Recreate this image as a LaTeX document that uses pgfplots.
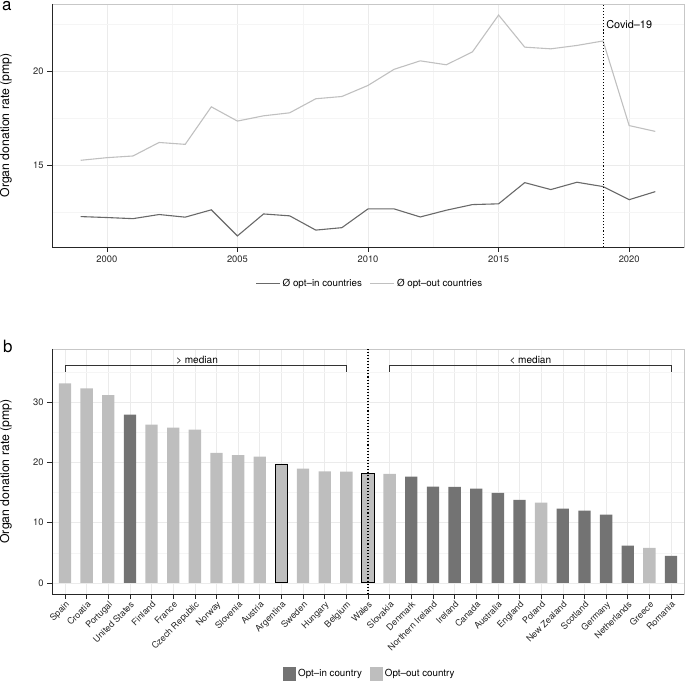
\documentclass[border=0pt]{standalone}
\usepackage{fontspec}
\setmainfont{TeX Gyre Heros}
\usepackage{pgfplots}
\pgfplotsset{compat=1.18}
\definecolor{optin}{RGB}{115,115,115}
\definecolor{optout}{RGB}{190,190,190}
\definecolor{lin}{RGB}{105,105,105}
\definecolor{lout}{RGB}{192,192,192}
\pgfplotsset{
  common/.style={
    scale only axis,
    axis lines=box,
    axis line style={black!22, line width=0.6bp},
    clip=false,
    grid=both,
    major grid style={black!8, line width=0.6bp},
    minor grid style={black!4, line width=0.4bp},
    xtick pos=bottom, ytick pos=left,
    tick align=outside,
    major tick length=5bp,
    minor tick length=0bp,
    tick style={black!85, line width=0.6bp},
    tick label style={font=\fontsize{9.4}{10}\selectfont, text=black!85},
    /pgf/number format/assume math mode=true,
    /pgf/number format/1000 sep={},
    every axis y label/.style={at={(axis description cs:-0.0728,0.5)}, rotate=90, anchor=center, font=\fontsize{12.3}{13}\selectfont},
    legend columns=2,
    legend style={draw=none, fill=none, font=\fontsize{9.8}{11}\selectfont, anchor=center,
      /tikz/every even column/.append style={column sep=6bp}},
  }
}
\begin{document}
\begin{tikzpicture}[x=1bp,y=1bp]
\path[use as bounding box] (0,0) rectangle (685,681);
\node[anchor=base west, inner sep=0pt] at (2,670) {\fontsize{17}{17}\selectfont a};
\node[anchor=base west, inner sep=0pt] at (3,328) {\fontsize{17}{17}\selectfont b};
% ---------------- panel a
\begin{axis}[common,
  at={(52bp,434bp)}, anchor=south west,
  width=632bp, height=243bp,
  xmin=1997.9, xmax=2022.1, ymin=10.63, ymax=23.58,
  xtick={2000,2005,2010,2015,2020}, ytick={15,20},
  minor xtick={2002.5,2007.5,2012.5,2017.5}, minor ytick={12.5,17.5,22.5},
  ylabel={Organ donation rate (pmp)},
  legend style={at={(axis description cs:0.503,-0.152)}},
  legend image code/.code={\draw[#1] (0bp,0bp) -- (24bp,0bp);},
]
\addplot[lin, line width=1.1bp] coordinates {
(1999,12.25)(2000,12.20)(2001,12.14)(2002,12.36)(2003,12.22)(2004,12.61)
(2005,11.22)(2006,12.39)(2007,12.29)(2008,11.53)(2009,11.66)(2010,12.66)
(2011,12.66)(2012,12.23)(2013,12.59)(2014,12.89)(2015,12.93)(2016,14.06)
(2017,13.69)(2018,14.08)(2019,13.85)(2020,13.15)(2021,13.58)};
\addlegendentry{Ø opt--in countries}
\addplot[lout, line width=1.1bp] coordinates {
(1999,15.25)(2000,15.39)(2001,15.48)(2002,16.20)(2003,16.10)(2004,18.10)
(2005,17.34)(2006,17.62)(2007,17.78)(2008,18.53)(2009,18.65)(2010,19.24)
(2011,20.10)(2012,20.55)(2013,20.34)(2014,21.03)(2015,22.99)(2016,21.28)
(2017,21.19)(2018,21.37)(2019,21.61)(2020,17.10)(2021,16.79)};
\addlegendentry{Ø opt--out countries}
\draw[black, dotted, line width=1.1bp] (axis cs:2019,10.63) -- (axis cs:2019,23.58);
\node[anchor=base west, inner sep=0pt, font=\fontsize{10.9}{12}\selectfont] at (axis cs:2019.12,22.29) {Covid--19};
\draw[black!85, line width=0.7bp] (rel axis cs:0,1) -- (rel axis cs:0,0) -- (rel axis cs:1,0);
\end{axis}
% ---------------- panel b
\begin{axis}[common,
  at={(52bp,87bp)}, anchor=south west,
  width=632bp, height=245bp,
  xmin=-0.6, xmax=28.6, ymin=-1.85, ymax=38.85,
  xtick={0,...,28}, ytick={0,10,20,30},
  minor ytick={5,15,25,35},
  xticklabels={Spain,Croatia,Portugal,United States,Finland,France,Czech Republic,Norway,Slovenia,Austria,Argentina,Sweden,Hungary,Belgium,Wales,Slovakia,Denmark,Northern Ireland,Ireland,Canada,Australia,England,Poland,New Zealand,Scotland,Germany,Netherlands,Greece,Romania},
  xticklabel style={rotate=45, anchor=north east, inner sep=1bp, font=\fontsize{9}{10}\selectfont},
  ylabel={Organ donation rate (pmp)},
  ybar, bar width=0.57,
  legend style={at={(axis description cs:0.503,-0.3265)}},
  legend image code/.code={\fill[#1, draw=none] (0bp,-7bp) rectangle (13bp,7bp);},
]
\addplot[fill=optin, draw=none, bar shift=0pt] coordinates {
(3,27.95)(16,17.65)(17,15.99)(18,15.94)(19,15.66)(20,14.94)(21,13.78)
(23,12.34)(24,12.00)(25,11.34)(26,6.20)(28,4.48)};
\addlegendentry{Opt--in country}
\addplot[fill=optout, draw=none, bar shift=0pt] coordinates {
(0,33.15)(1,32.30)(2,31.20)(4,26.30)(5,25.80)(6,25.45)(7,21.60)(8,21.20)
(9,20.97)(11,18.98)(12,18.54)(13,18.48)(15,18.10)(22,13.34)(27,5.81)};
\addlegendentry{Opt--out country}
\addplot[fill=optout, draw=black, line width=0.9bp, bar shift=0pt, forget plot] coordinates {
(10,19.75)(14,18.15)};
\draw[black, dotted, line width=1.1bp] (axis cs:14,-1.85) -- (axis cs:14,38.85);
\draw[black!80, line width=0.7bp] (axis cs:0,35.0) -- (axis cs:0,36.1) -- (axis cs:13,36.1) -- (axis cs:13,35.0);
\draw[black!80, line width=0.7bp] (axis cs:15,35.0) -- (axis cs:15,36.1) -- (axis cs:28,36.1) -- (axis cs:28,35.0);
\node[anchor=base, inner sep=0pt, font=\fontsize{10.1}{11}\selectfont] at (axis cs:6.1,36.4) {\textgreater{} median};
\node[anchor=base, inner sep=0pt, font=\fontsize{10.1}{11}\selectfont] at (axis cs:21.5,36.4) {\textless{} median};
\draw[black!85, line width=0.7bp] (rel axis cs:0,1) -- (rel axis cs:0,0) -- (rel axis cs:1,0);
\end{axis}
\end{tikzpicture}
\end{document}
